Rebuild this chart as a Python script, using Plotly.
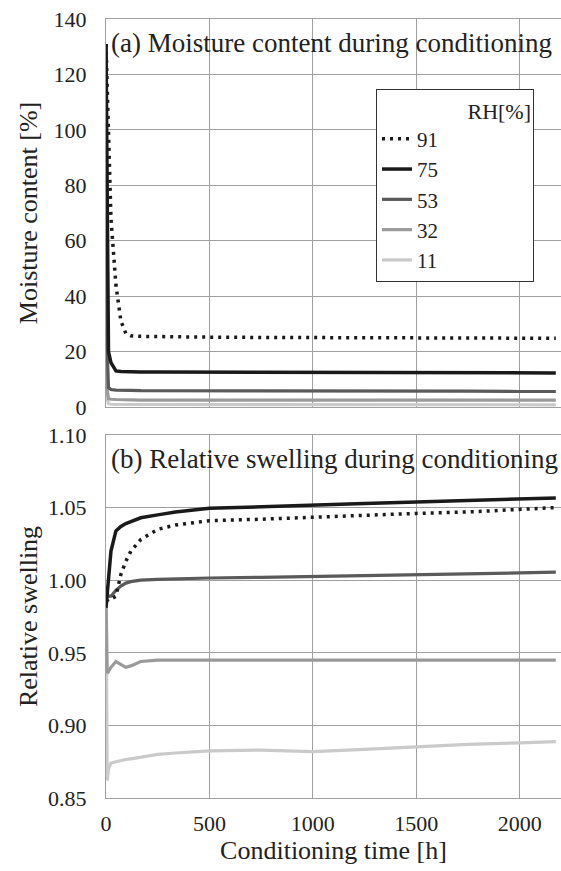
import plotly.graph_objects as go

# ---- data ----
time_h = [0, 6, 12, 24, 48, 72, 96, 120, 168, 250, 336, 500, 750, 1000, 1250, 1500, 1750, 2000, 2175]

rh_labels = ["91", "75", "53", "32", "11"]

mc_91 = [131, 112, 95, 68, 44, 31, 26.5, 25.7, 25.5, 25.4, 25.3, 25.2, 25.1, 25.0, 25.0, 24.9, 24.9, 24.8, 24.8]
mc_75 = [131, 50, 20, 16, 13.0, 12.8, 12.7, 12.7, 12.6, 12.6, 12.6, 12.5, 12.5, 12.4, 12.4, 12.4, 12.3, 12.3, 12.3]
mc_53 = [131, 20, 7.0, 6.3, 6.1, 6.0, 6.0, 6.0, 5.9, 5.9, 5.9, 5.9, 5.8, 5.8, 5.8, 5.7, 5.7, 5.6, 5.6]
mc_32 = [131, 6.0, 3.0, 2.8, 2.7, 2.6, 2.6, 2.6, 2.5, 2.5, 2.5, 2.5, 2.5, 2.5, 2.5, 2.5, 2.5, 2.5, 2.5]
mc_11 = [131, 3.0, 1.2, 1.0, 0.9, 0.9, 0.9, 0.9, 0.8, 0.8, 0.8, 0.8, 0.8, 0.8, 0.8, 0.8, 0.8, 0.8, 0.8]

sw_91 = [0.986, 0.986, 0.987, 0.987, 0.989, 1.004, 1.013, 1.020, 1.028, 1.035, 1.038, 1.041, 1.042, 1.0435, 1.045, 1.046, 1.047, 1.049, 1.050]
sw_75 = [0.981, 0.992, 1.005, 1.020, 1.034, 1.037, 1.039, 1.0405, 1.043, 1.045, 1.047, 1.0495, 1.0508, 1.0518, 1.0528, 1.0539, 1.0549, 1.0559, 1.0566]
sw_53 = [0.991, 0.990, 0.989, 0.989, 0.993, 0.996, 0.998, 0.999, 1.000, 1.0005, 1.001, 1.0015, 1.002, 1.0025, 1.003, 1.0035, 1.004, 1.005, 1.0056]
sw_32 = [0.990, 0.936, 0.937, 0.940, 0.944, 0.942, 0.940, 0.941, 0.944, 0.945, 0.945, 0.945, 0.945, 0.9448, 0.9448, 0.945, 0.945, 0.945, 0.945]
sw_11 = [0.990, 0.862, 0.870, 0.874, 0.875, 0.876, 0.8765, 0.877, 0.878, 0.880, 0.881, 0.8825, 0.883, 0.882, 0.8835, 0.8853, 0.887, 0.888, 0.8888]

x_ticks = [0, 500, 1000, 1500, 2000]
mc_ticks = [0, 20, 40, 60, 80, 100, 120, 140]
sw_ticks = [0.85, 0.90, 0.95, 1.00, 1.05, 1.10]
sw_ticktext = ["0.85", "0.90", "0.95", "1.00", "1.05", "1.10"]

# ---- styles ----
styles = {
    "91": dict(color="#1a1a1a", width=3.5, dash="3px,5px"),
    "75": dict(color="#1a1a1a", width=3.5, dash="solid"),
    "53": dict(color="#5a5a5a", width=3.2, dash="solid"),
    "32": dict(color="#9a9a9a", width=3.2, dash="solid"),
    "11": dict(color="#cacaca", width=3.2, dash="solid"),
}
mc_data = {"91": mc_91, "75": mc_75, "53": mc_53, "32": mc_32, "11": mc_11}
sw_data = {"91": sw_91, "75": sw_75, "53": sw_53, "32": sw_32, "11": sw_11}

FONT = "Liberation Serif"
GRID = "#a0a0a0"
TXT = "#222222"

fig = go.Figure()
for lab in reversed(rh_labels):
    fig.add_trace(go.Scatter(x=time_h, y=mc_data[lab], mode="lines", name=lab,
                             line=styles[lab], xaxis="x", yaxis="y", showlegend=True))
for lab in reversed(rh_labels):
    fig.add_trace(go.Scatter(x=time_h, y=sw_data[lab], mode="lines", name=lab,
                             line=styles[lab], xaxis="x2", yaxis="y2", showlegend=False))

W, H = 561, 871
L, R, T, B = 106, 0, 19, 73
ph = H - T - B
pw = W - L - R

def py(ypix):
    return (H - B - ypix) / ph

def px(xpix):
    return (xpix - L) / pw

axis_common = dict(showgrid=True, gridcolor=GRID, gridwidth=1, showline=True, linecolor=GRID,
                   linewidth=1, mirror=True, zeroline=False,
                   tickfont=dict(family=FONT, size=22, color=TXT))

NB = "\u00a0"

fig.update_layout(
    width=W, height=H,
    margin=dict(l=L, r=R, t=T, b=B),
    paper_bgcolor="white", plot_bgcolor="white",
    font=dict(family=FONT, color=TXT),
    xaxis=dict(domain=[0, 1], anchor="y", range=[0, 2200], tickvals=x_ticks, showticklabels=False,
               **axis_common),
    yaxis=dict(domain=[py(407), 1], anchor="x", range=[0, 140], tickvals=mc_ticks,
               ticks="outside", ticklen=14, tickcolor="rgba(0,0,0,0)",
               title=dict(text="Moisture content [%]", font=dict(family=FONT, size=26, color=TXT), standoff=8),
               **axis_common),
    xaxis2=dict(domain=[0, 1], anchor="y2", range=[0, 2200], tickvals=x_ticks,
                ticks="outside", ticklen=6, tickcolor="rgba(0,0,0,0)",
                title=dict(text="Conditioning time [h]", font=dict(family=FONT, size=26, color=TXT), standoff=4),
                **axis_common),
    yaxis2=dict(domain=[0, py(435)], anchor="x2", range=[0.85, 1.10], tickvals=sw_ticks, ticktext=sw_ticktext,
                ticks="outside", ticklen=14, tickcolor="rgba(0,0,0,0)",
                title=dict(text="Relative swelling", font=dict(family=FONT, size=26, color=TXT), standoff=2),
                **axis_common),
    legend=dict(x=px(534), y=py(89), xanchor="right", yanchor="top",
                bgcolor="white", bordercolor="#333", borderwidth=1,
                traceorder="reversed",
                font=dict(family=FONT, size=21, color=TXT),
                title=dict(text=NB * 16 + "RH[%]", side="top right", font=dict(family=FONT, size=22, color=TXT)),
                tracegroupgap=0),
    annotations=[
        dict(text="(a) Moisture content during conditioning", xref="paper", yref="paper",
             x=px(109), y=py(43), xanchor="left", yanchor="middle", showarrow=False,
             font=dict(family=FONT, size=27, color=TXT)),
        dict(text="(b) Relative swelling during conditioning", xref="paper", yref="paper",
             x=px(109), y=py(459), xanchor="left", yanchor="middle", showarrow=False,
             font=dict(family=FONT, size=27, color=TXT)),
    ],
)

fig.write_html("out.html", config={"displayModeBar": False},
               post_script="document.body.style.margin='0';")
